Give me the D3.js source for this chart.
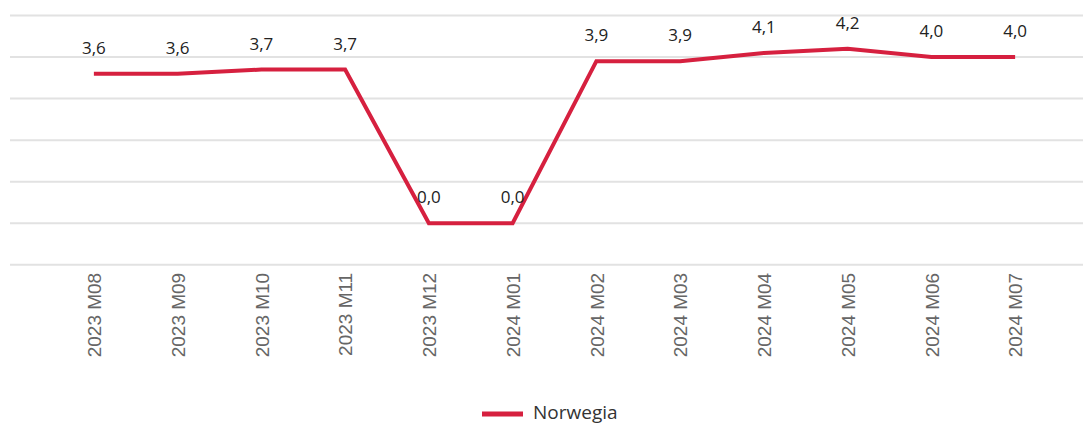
<!DOCTYPE html>
<html>
<head>
<meta charset="utf-8">
<script src="https://cdn.jsdelivr.net/npm/d3@7"></script>
<style>
  html, body { margin: 0; padding: 0; background: #fff; }
  svg { display: block; }
</style>
</head>
<body>
<svg id="chart" width="1083" height="424"></svg>
<script>
const months = ["2023 M08","2023 M09","2023 M10","2023 M11","2023 M12","2024 M01",
                "2024 M02","2024 M03","2024 M04","2024 M05","2024 M06","2024 M07"];
const norwegia = [3.6, 3.6, 3.7, 3.7, 0.0, 0.0, 3.9, 3.9, 4.1, 4.2, 4.0, 4.0];
const yTicks = [-1, 0, 1, 2, 3, 4, 5];
const seriesName = "Norwegia";

const W = 1083, H = 424;
const RED = "#d6203f";
const svg = d3.select("#chart");

// skale
const x = d3.scalePoint().domain(months).range([52, 1057]).padding(0.5);
const y = d3.scaleLinear().domain([-1, 5]).range([264.8, 15.5]);

// siatka
svg.append("g").selectAll("line")
  .data(yTicks)
  .join("line")
    .attr("x1", 10).attr("x2", W)
    .attr("y1", d => y(d)).attr("y2", d => y(d))
    .attr("stroke", "#e2e2e2")
    .attr("stroke-width", 2);

// oś X - etykiety pionowe
const xAxis = svg.append("g")
  .attr("transform", `translate(0,${y(-1)})`)
  .call(d3.axisBottom(x).tickSize(0).tickPadding(0));
xAxis.select(".domain").remove();
xAxis.selectAll("text")
  .attr("transform", "rotate(-90)")
  .attr("x", -8).attr("y", 0).attr("dy", "0.35em")
  .attr("text-anchor", "end")
  .attr("fill", "#666")
  .style("font-family", "'Liberation Sans', Arial, sans-serif")
  .style("font-size", "19px");

// linia
const line = d3.line().x((d, i) => x(months[i])).y(d => y(d));
svg.append("path")
  .datum(norwegia)
  .attr("d", line)
  .attr("fill", "none")
  .attr("stroke", RED)
  .attr("stroke-width", 4)
  .attr("stroke-linejoin", "miter");

// etykiety wartości
const fmt = d => d.toFixed(1).replace(".", ",");
svg.append("g").selectAll("text")
  .data(norwegia)
  .join("text")
    .attr("x", (d, i) => x(months[i]))
    .attr("y", d => y(d) - 20)
    .attr("text-anchor", "middle")
    .attr("fill", "#222")
    .style("font-family", "'Open Sans', 'Noto Sans', sans-serif")
    .style("font-size", "17px")
    .text(fmt);

// legenda
const lg = svg.append("g");
lg.append("line")
  .attr("x1", 482).attr("x2", 523)
  .attr("y1", 414).attr("y2", 414)
  .attr("stroke", RED).attr("stroke-width", 5);
lg.append("text")
  .attr("x", 533).attr("y", 418.5)
  .attr("fill", "#333")
  .style("font-family", "'Open Sans', 'Noto Sans', sans-serif")
  .style("font-size", "19px")
  .text(seriesName);
</script>
</body>
</html>
